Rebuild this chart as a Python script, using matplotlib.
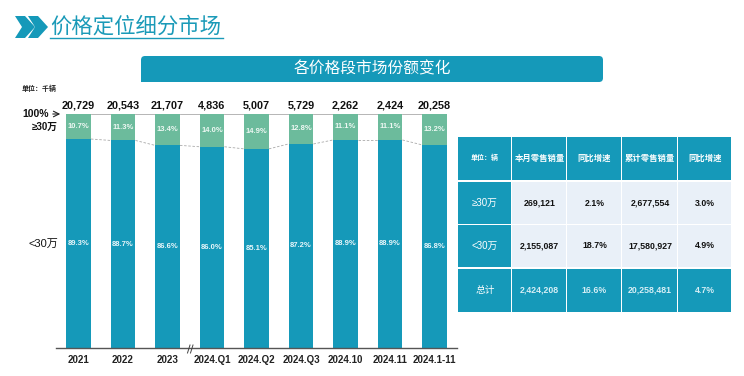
import matplotlib
matplotlib.use('Agg')
import matplotlib.pyplot as plt
from matplotlib.patches import FancyBboxPatch, Polygon, Rectangle

plt.rcParams['font.family'] = ['Liberation Sans', 'Noto Sans CJK SC', 'DejaVu Sans']

W, H = 744, 376
TEAL = '#1599b9'
GREEN = '#6cbb9c'
LIGHT = '#e9f0f8'

periods = ['2021', '2022', '2023', '2024.Q1', '2024.Q2', '2024.Q3', '2024.10', '2024.11', '2024.1-11']
# 前两个总量在原图中重叠不清，为估读值
totals = ['20,729', '20,543', '21,707', '4,836', '5,007', '5,729', '2,262', '2,424', '20,258']
below_30 = [89.3, 88.7, 86.6, 86.0, 85.1, 87.2, 88.9, 88.9, 86.8]
above_30 = [10.7, 11.3, 13.4, 14.0, 14.9, 12.8, 11.1, 11.1, 13.2]

table_head = ['单位：辆', '本月零售销量', '同比增速', '累计零售销量', '同比增速']
table_rows = [
    ['≥30万', '269,121', '2.1%', '2,677,554', '3.0%'],
    ['<30万', '2,155,087', '18.7%', '17,580,927', '4.9%'],
    ['总计', '2,424,208', '16.6%', '20,258,481', '4.7%'],
]

fig = plt.figure(figsize=(W / 100, H / 100), dpi=100)

# 柱状图
ax = fig.add_axes([56.25 / W, (H - 348) / H, 400.5 / W, 234 / H])
x = list(range(len(periods)))
bar_w = 0.56
ax.bar(x, below_30, width=bar_w, color=TEAL, zorder=2)
ax.bar(x, above_30, width=bar_w, bottom=below_30, color=GREEN, zorder=2)
ax.set_xlim(-0.5, 8.5)
ax.set_ylim(0, 100)
ax.set_yticks([])
ax.set_xticks(x, periods, fontsize=7, fontweight='bold', color='#222222')
ax.tick_params(axis='x', length=0, pad=5)
for s in ['top', 'left', 'right']:
    ax.spines[s].set_visible(False)
ax.spines['bottom'].set_color('#555555')
ax.spines['bottom'].set_linewidth(1)
ax.patch.set_alpha(0)

for i in x:
    ax.text(i, below_30[i] / 2, f'{below_30[i]:.1f}%', color='#e8f6fa', fontsize=5.5,
            fontweight='bold', ha='center', va='center', zorder=3)
    ax.text(i, below_30[i] + above_30[i] / 2, f'{above_30[i]:.1f}%', color='#eef8f3', fontsize=5.5,
            fontweight='bold', ha='center', va='center', zorder=3)
    ax.text(i, 103.5, totals[i], color='#111111', fontsize=7.8, fontweight='bold',
            ha='center', va='center', clip_on=False)
    if i < len(x) - 1:
        ax.plot([i + bar_w / 2, i + 1 - bar_w / 2], [below_30[i], below_30[i + 1]],
                color='#aaaaaa', lw=0.6, ls=(0, (3, 2)), zorder=1)
        ax.plot([i + bar_w / 2, i + 1 - bar_w / 2], [100, 100], color='#aaaaaa', lw=0.6,
                zorder=1, clip_on=False)

# 像素坐标的覆盖层：标题、横幅、表格
ov = fig.add_axes([0, 0, 1, 1], zorder=5)
ov.set_xlim(0, W)
ov.set_ylim(H, 0)
ov.axis('off')

for x0 in (15, 28):
    ov.add_patch(Polygon([(x0, 16), (x0 + 10, 16), (x0 + 20, 27), (x0 + 10, 38), (x0, 38), (x0 + 7, 27)],
                         color=TEAL, lw=0))
ov.text(136, 26.5, '价格定位细分市场', color='#1a9ab8', fontsize=15.4, ha='center', va='center')
ov.plot([50, 223], [38, 38], color='#1a9ab8', lw=1)

ov.add_patch(FancyBboxPatch((141, 56), 462, 26, boxstyle='round,pad=0,rounding_size=4', fc=TEAL, lw=0))
ov.add_patch(Rectangle((141, 70), 8, 12, fc=TEAL, lw=0))
ov.text(372, 68.5, '各价格段市场份额变化', color='white', fontsize=11.3, ha='center', va='center')

ov.text(22, 89, '单位：千辆', color='#222222', fontsize=5, fontweight='bold', va='center')
ov.text(22, 114, '100%', color='#111111', fontsize=7.5, fontweight='bold', va='center')
ov.annotate('', xy=(63, 114), xytext=(50, 114), arrowprops=dict(arrowstyle='->', lw=0.8, color='#222222'))
ov.text(58, 127, '≥30万', color='#111111', fontsize=7, fontweight='bold', ha='right', va='center')
ov.text(58, 244, '<30万', color='#111111', fontsize=8, ha='right', va='center')

# 坐标轴断裂符号
ov.plot([187.5, 190], [353, 345], color='#444444', lw=0.7)
ov.plot([190.5, 193], [353, 345], color='#444444', lw=0.7)

# 表格
col_x = [458, 512, 567, 622, 678, 732]
row_y = [(137, 180), (182, 224), (225, 267), (269, 312)]
for r, (y0, y1) in enumerate(row_y):
    cells = table_head if r == 0 else table_rows[r - 1]
    for c in range(5):
        x0, x1 = col_x[c], col_x[c + 1]
        teal_cell = r in (0, 3) or c == 0
        ov.add_patch(Rectangle((x0, y0), x1 - x0 - 1, y1 - y0, fc=TEAL if teal_cell else LIGHT, lw=0))
        if r == 0:
            size = 5 if c == 0 else 6
            weight = 'bold'
        elif c == 0:
            size = 7
            weight = 'normal'
        else:
            size = 6.3
            weight = 'bold'
        ink = 'white' if teal_cell else '#111111'
        if r == 3 and c > 0:
            ink = '#d5eef5'
        ov.text((x0 + x1) / 2, (y0 + y1) / 2, cells[c], color=ink, fontsize=size,
                fontweight=weight, ha='center', va='center')

fig.savefig('out.png', dpi=100)
